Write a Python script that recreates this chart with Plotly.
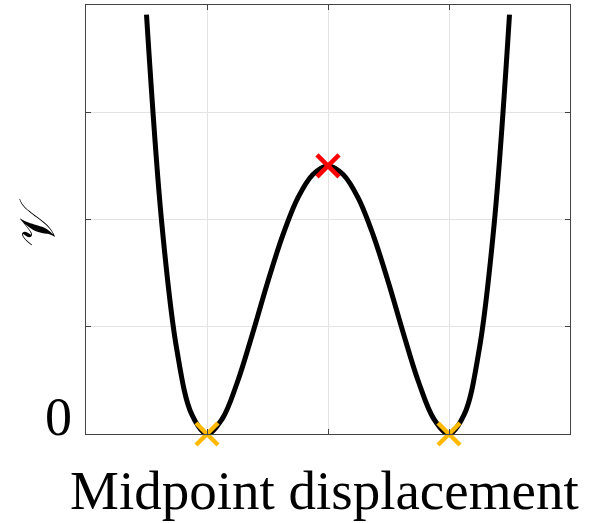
import plotly.graph_objects as go

# Curve samples (midpoint displacement vs potential)
x_vals = [-1.5, -1.375, -1.25, -1.125, -1.0, -0.875, -0.75, -0.625, -0.5, -0.375,
          -0.25, -0.125, 0.0, 0.125, 0.25, 0.375, 0.5, 0.625, 0.75, 0.875,
          1.0, 1.125, 1.25, 1.375, 1.5]
v_vals = [3.91, 1.98, 0.79, 0.18, 0.0, 0.14, 0.48, 0.93, 1.41, 1.85,
          2.20, 2.42, 2.5, 2.42, 2.20, 1.85, 1.41, 0.93, 0.48, 0.14,
          0.0, 0.18, 0.79, 1.98, 3.91]

# Stationary points
saddle_x = [0.0]
saddle_v = [2.5]
minima_x = [-1.0, 1.0]
minima_v = [0.0, 0.0]

x_ticks = [-1, 0, 1]
y_ticks = [0, 1, 2, 3]
y_tick_labels = ["0"]
x_title = "Midpoint displacement"
y_title = "𝒱"

L, R, T, B = 86, 25, 5, 89
W, H = 595, 523
PW, PH = W - L - R, H - T - B

def px_x(px):
    return (px - L) / PW

def px_y(py):
    return (H - B - py) / PH

fig = go.Figure()
fig.add_trace(go.Scatter(x=x_vals, y=v_vals, mode="lines",
                         line=dict(color="black", width=5, shape="spline", smoothing=1.0),
                         showlegend=False, hoverinfo="skip"))
fig.add_trace(go.Scatter(x=saddle_x, y=saddle_v, mode="markers",
                         marker=dict(symbol="x-thin", size=22, line=dict(color="#ff0000", width=4.5)),
                         showlegend=False, cliponaxis=False))
fig.add_trace(go.Scatter(x=minima_x, y=minima_v, mode="markers",
                         marker=dict(symbol="x-thin", size=22, line=dict(color="#ffb900", width=4.5)),
                         showlegend=False, cliponaxis=False))

font_family = "Liberation Serif, DejaVu Serif, serif"
annotations = [
    dict(text=x_title, xref="paper", yref="paper", x=px_x(324), y=px_y(490),
         xanchor="center", yanchor="middle", showarrow=False,
         font=dict(size=55, family=font_family, color="black")),
    dict(text=y_title, xref="paper", yref="paper", x=px_x(37), y=px_y(223),
         xanchor="center", yanchor="middle", showarrow=False, textangle=-90,
         font=dict(size=50, family=font_family, color="black")),
    dict(text=y_tick_labels[0], xref="paper", yref="y", x=px_x(74), y=y_ticks[0],
         xanchor="right", yanchor="middle", yshift=17, showarrow=False,
         font=dict(size=54, family=font_family, color="black")),
]

fig.update_layout(
    width=W, height=H,
    margin=dict(l=L, r=R, t=T, b=B),
    paper_bgcolor="white", plot_bgcolor="white",
    font=dict(family=font_family, color="black", size=54),
    annotations=annotations,
)
fig.update_xaxes(range=[-2, 2], tickvals=x_ticks, showticklabels=False, automargin=False,
                 ticks="inside", ticklen=5, tickcolor="#444", mirror="ticks",
                 showline=True, linecolor="#444", linewidth=1,
                 showgrid=True, gridcolor="#e3e3e3", gridwidth=1, zeroline=False)
fig.update_yaxes(range=[0, 4], tickvals=y_ticks, showticklabels=False, automargin=False,
                 ticks="inside", ticklen=5, tickcolor="#444", mirror="ticks",
                 showline=True, linecolor="#444", linewidth=1,
                 showgrid=True, gridcolor="#e3e3e3", gridwidth=1, zeroline=False)

fig.write_html("out.html", config={"displayModeBar": False},
               post_script="document.body.style.margin='0';")
